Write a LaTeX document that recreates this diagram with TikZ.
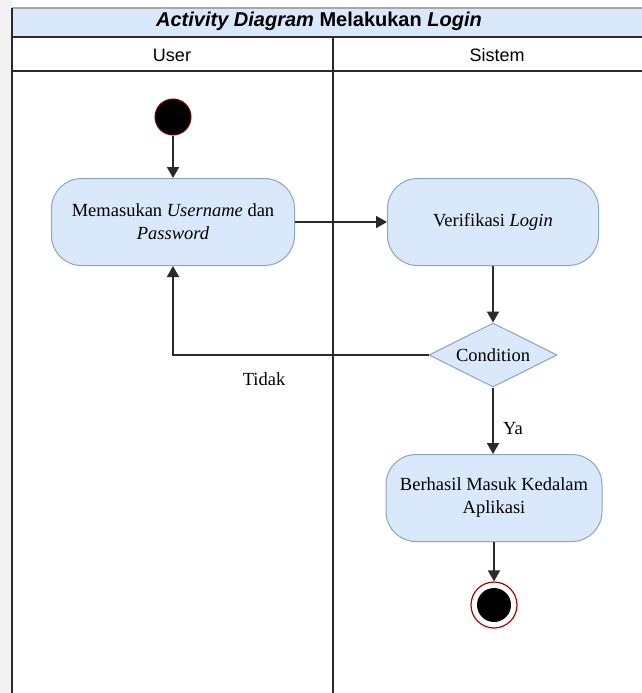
\documentclass[tikz,border=0pt]{standalone}
\usepackage{fontspec}
\setmainfont{Liberation Serif}
\newfontfamily\arialfont{Liberation Sans}
\usetikzlibrary{shapes.geometric,arrows.meta}
\definecolor{actfill}{HTML}{DAE8FC}
\definecolor{actborder}{HTML}{8DA3C0}
\definecolor{lanecol}{HTML}{2A2A2A}
\definecolor{rimred}{HTML}{B00000}
\definecolor{margingray}{HTML}{F2F2F2}
\begin{document}
\begin{tikzpicture}[x=1pt,y=-1pt,
  act/.style={draw=actborder, fill=actfill, rounded corners=30pt, line width=1pt,
    minimum width=#1, minimum height=87pt, align=center,
    font=\fontsize{18.5}{23}\selectfont},
  act/.default=243pt,
  flow/.style={draw=lanecol, line width=1.8pt, -{Triangle[length=11pt,width=12pt]}},
  lane/.style={draw=lanecol, line width=1.6pt},
  hdr/.style={font=\arialfont\fontsize{18}{21}\selectfont},
  lbl/.style={font=\fontsize{18.5}{21}\selectfont}
]
\useasboundingbox (0,0) rectangle (642,693);
% margin background
\fill[margingray] (0,0) rectangle (12,693);
\fill[white] (12,8) rectangle (642,693);
% title band
\fill[actfill] (12,8) rectangle (642,37);
\node[hdr, font=\arialfont\bfseries\fontsize{20}{23}\selectfont] (title) at (319,21)
  {\itshape Activity Diagram\upshape{} Melakukan \itshape Login};
\node[hdr] (huser) at (172,55) {User};
\node[hdr] (hsis) at (497,55) {Sistem};
% lane lines
\draw[lane, draw=gray!70] (12,8) -- (642,8);
\draw[lane] (12,37) -- (642,37);
\draw[lane] (12,71) -- (642,71);
\draw[lane] (12,8) -- (12,693);
\draw[lane] (333,37) -- (333,693);
% nodes
\node[circle, fill=black, draw=rimred!70!black, line width=1pt, minimum size=36pt, inner sep=0pt] (start) at (173,117) {};
\node[act] (mem) at (173,222) {Memasukan \textit{Username} dan\\\textit{Password}};
\node[act=211pt] (ver) at (493,222) {Verifikasi \textit{Login}};
\node[diamond, draw=actborder, fill=actfill, line width=1pt, minimum width=128pt, minimum height=64pt, inner sep=0pt, aspect=2,
  font=\fontsize{18.5}{21}\selectfont] (cond) at (493,355) {Condition};
\node[act=216pt] (berh) at (494,498) {Berhasil Masuk Kedalam\\Aplikasi};
\node[circle, draw=rimred, fill=white, line width=1.2pt, minimum size=46pt, inner sep=0pt] (end) at (494,605) {};
\node[circle, fill=black, minimum size=34pt, inner sep=0pt] (endin) at (end.center) {};
% edges
\draw[flow] (start) -- (mem);
\draw[flow] (mem) -- (ver);
\draw[flow] (ver) -- (cond);
\draw[flow] (cond.west) -| (mem.south);
\draw[flow] (cond.south) -- (cond.south |- berh.north);
\draw[flow] (berh) -- (end);
% labels
\node[lbl] (tidak) at (264,379) {Tidak};
\node[lbl] (ya) at (513,429) {Ya};
\end{tikzpicture}
\end{document}
